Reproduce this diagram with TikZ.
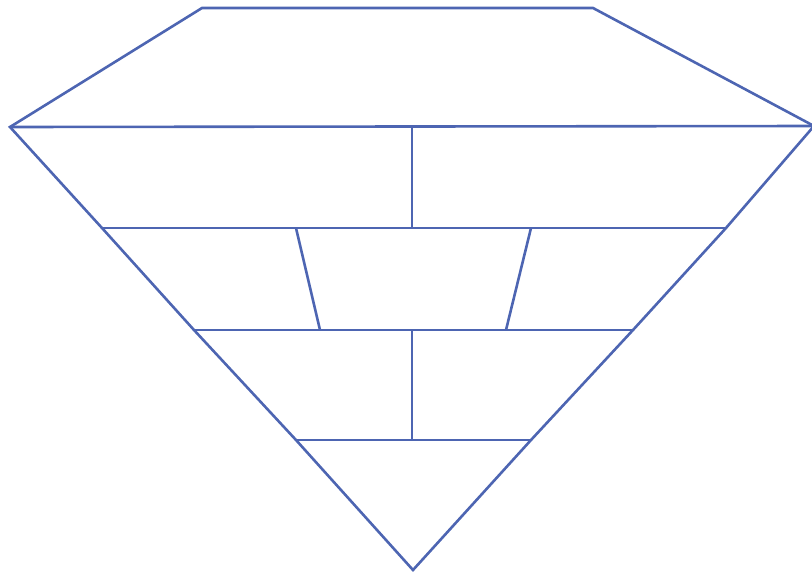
\documentclass[tikz,border=0pt]{standalone}
\usepackage{xcolor}
\usepackage{tikz}
\definecolor{edgeblue}{HTML}{4D65B2}
\tikzset{gem/.style={draw=edgeblue, line width=2.6pt, line join=miter}}

\begin{document}
\begin{tikzpicture}[x=1pt, y=-1pt]
    \useasboundingbox (0,0) rectangle (812,571);
    \clip (0,0) rectangle (812,571);
    % outline points
    \coordinate (tl) at (202,8);
    \coordinate (tr) at (593,8);
    \coordinate (lft) at (10,127);
    \coordinate (rgt) at (814,126);
    \coordinate (bot) at (413,570);
    % rows
    \coordinate (r1l) at (102,228); \coordinate (r1r) at (726,228);
    \coordinate (r2l) at (194,330); \coordinate (r2r) at (633,330);
    \coordinate (r3l) at (296,440); \coordinate (r3r) at (531,440);
    % inner joints
    \coordinate (v1a) at (412,126); \coordinate (v1b) at (412,228);
    \coordinate (s1a) at (296,228); \coordinate (s1b) at (320,330);
    \coordinate (s2a) at (531,228); \coordinate (s2b) at (506,330);
    \coordinate (v2a) at (412,330); \coordinate (v2b) at (412,440);

    \draw[gem] (lft) -- (tl) -- (tr) -- (rgt) -- (r1r) -- (r2r) -- (r3r) -- (bot)
      -- (r3l) -- (r2l) -- (r1l) -- cycle;
    \draw[gem] (lft) -- (rgt);
    \draw[gem] (r1l) -- (r1r);
    \draw[gem] (r2l) -- (r2r);
    \draw[gem] (r3l) -- (r3r);
    \draw[gem] (v1a) -- (v1b);
    \draw[gem] (s1a) -- (s1b);
    \draw[gem] (s2a) -- (s2b);
    \draw[gem] (v2a) -- (v2b);
  \end{tikzpicture}
\end{document}
